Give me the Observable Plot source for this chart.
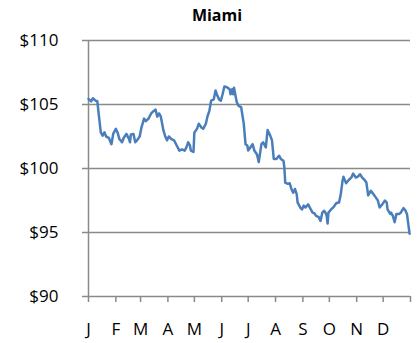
<!DOCTYPE html>
<html>
<head>
<meta charset="utf-8">
<script src="https://cdn.jsdelivr.net/npm/d3@7"></script>
<script src="https://cdn.jsdelivr.net/npm/@observablehq/plot@0.6"></script>
<style>
  body { margin: 0; background: #fff; }
  #wrap { position: relative; width: 418px; height: 343px; font-family: "Open Sans", sans-serif; }
  #title { position: absolute; left: 8px; top: 4px; width: 418px; text-align: center; font-weight: bold; font-size: 16px; color: #000; }
</style>
</head>
<body>
<div id="wrap"><div id="title">Miami</div></div>
<script>
const title = "Miami";
const monthLabels = ["J","F","M","A","M","J","J","A","S","O","N","D"];
const yTicks = [90, 95, 100, 105, 110];
const year = 2011;
// day of year (0 = Jan 1) and price
const dayOfYear = [0,3,5,8,10,12,14,16,18,20,23,26,28,31,33,35,38,40,43,46,47,48,51,53,55,58,60,63,65,68,71,74,76,78,80,82,85,87,89,91,94,97,100,103,106,109,111,113,115,116,119,120,123,125,128,130,133,135,137,139,142,144,146,148,150,152,154,157,160,161,163,164,165,168,170,173,176,178,180,181,184,186,188,191,193,196,198,201,203,206,208,210,213,216,218,221,222,223,226,228,230,232,234,236,237,240,242,244,246,249,252,254,256,258,261,263,265,267,269,270,271,272,275,278,281,284,286,288,289,292,295,298,300,303,305,308,310,313,315,317,320,323,325,328,330,333,336,338,339,342,343,345,347,349,352,354,357,359,361,363,364];
const price = [105.44,105.25,105.49,105.3,105.25,104.0,102.8,102.57,102.83,102.5,102.4,101.9,102.7,103.1,102.8,102.3,102.05,102.4,102.7,102.3,102.05,102.65,102.7,102.05,102.2,102.5,103.2,103.9,103.7,103.9,104.3,104.5,104.6,104.05,104.3,104.05,102.95,102.5,102.2,102.5,102.3,102.2,101.8,101.4,101.5,101.4,101.65,102.05,101.8,101.4,101.3,102.8,103.1,103.5,103.2,103.1,103.5,104.1,104.5,105.3,105.4,106.1,105.7,105.4,105.3,105.8,106.4,106.35,106.2,105.8,106.2,105.8,106.3,105.2,104.9,104.8,103.5,101.9,101.8,101.4,101.7,101.9,101.4,101.1,100.5,101.9,102.05,101.65,103.0,102.57,102.2,100.75,100.75,101.0,100.75,100.6,100.1,98.9,98.8,98.85,98.4,98.1,98.4,98.0,97.35,96.95,96.8,97.1,96.95,97.2,96.8,96.55,96.5,96.3,96.2,95.9,96.55,96.7,96.5,96.3,95.7,96.55,96.8,97.0,97.3,97.35,98.0,99.05,99.35,98.85,99.1,99.3,99.6,99.3,99.35,99.55,99.3,99.1,98.9,97.9,98.25,98.0,97.8,97.5,96.95,97.2,97.5,97.35,96.8,96.45,96.55,96.3,95.8,96.45,96.45,96.55,96.9,96.75,96.45,95.4,94.9];

const start = new Date(Date.UTC(year, 0, 1));
const end = new Date(Date.UTC(year + 1, 0, 1));
const data = dayOfYear.map((d, i) => ({date: d3.utcDay.offset(start, d), price: price[i]}));
const monthTicks = d3.utcMonth.range(start, d3.utcDay.offset(end, 1));

const gray = "#8a8a8a";
const chart = Plot.plot({
  width: 418,
  height: 343,
  marginLeft: 88,
  marginRight: 8,
  marginTop: 40,
  marginBottom: 47,
  style: {fontFamily: "'Open Sans', sans-serif", fontSize: "17px", color: "#000", background: "transparent"},
  x: {type: "utc", domain: [start, end]},
  y: {domain: [90, 110]},
  marks: [
    Plot.ruleY(yTicks, {stroke: gray, strokeWidth: 1.5}),
    Plot.ruleX([start], {stroke: gray, strokeWidth: 1.5}),
    Plot.axisY(yTicks, {tickSize: 6, tickPadding: 24, stroke: gray, strokeWidth: 1.5, tickFormat: d => "$" + d, label: null, fill: "#000"}),
    Plot.axisX(monthTicks, {tickSize: 6, tickPadding: 20, stroke: gray, strokeWidth: 1.5, tickFormat: (d, i) => i < 12 ? monthLabels[i] : "", label: null, fill: "#000"}),
    Plot.line(data, {x: "date", y: "price", stroke: "#4a7ebb", strokeWidth: 2.5, strokeLinejoin: "round"})
  ]
});
document.getElementById("wrap").appendChild(chart);
document.getElementById("title").textContent = title;
</script>
</body>
</html>
